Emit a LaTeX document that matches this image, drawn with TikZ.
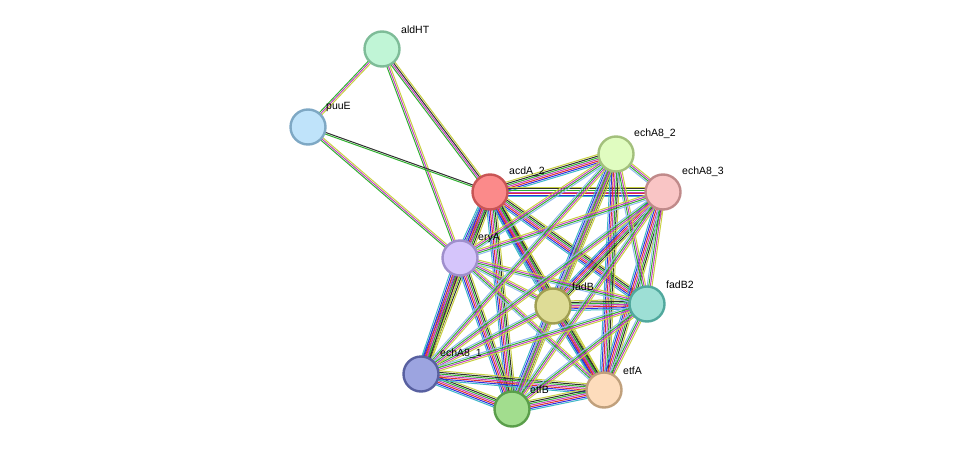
\documentclass[tikz,border=0pt]{standalone}
\usepackage{fontspec}
\setmainfont{Liberation Sans}
\usetikzlibrary{calc}
\definecolor{eYel}{HTML}{C8D040}
\definecolor{eGrn}{HTML}{30B030}
\definecolor{eMag}{HTML}{C040C0}
\definecolor{eBlu}{HTML}{3030E0}
\definecolor{eBlk}{HTML}{303030}
\definecolor{eCya}{HTML}{40B8C8}
\definecolor{eRed}{HTML}{E03030}
\definecolor{eLbl}{HTML}{90B8F0}
\newcommand{\link}[4]{%
  \foreach \c [count=\i] in {#3}{
    \pgfmathsetmacro{\off}{(\i-#4)*1.6}
    \draw[\c, line width=1pt] ($(#1)!\off pt!90:(#2)$) -- ($(#2)!\off pt!-90:(#1)$);
  }}
\begin{document}
\begin{tikzpicture}[x=1pt, y=-1pt,
    protein/.style={circle, draw, line width=2.4pt, minimum size=35pt, inner sep=0pt},
    tag/.style={anchor=south west, font=\fontsize{10.5}{12}\selectfont, inner sep=0pt}]
\useasboundingbox (0,0) rectangle (976,455);
% node positions
\coordinate (aldHT) at (382,49);
\coordinate (puuE) at (308,127);
\coordinate (acdA) at (490,192);
\coordinate (echB) at (616,154);
\coordinate (echC) at (663,192);
\coordinate (eryA) at (460,258);
\coordinate (fadB) at (553,306);
\coordinate (fadBb) at (647,304);
\coordinate (echA) at (421,374);
\coordinate (etfB) at (512,409);
\coordinate (etfA) at (604,390);
% edges
\link{aldHT}{puuE}{eGrn,eMag,eYel}{2}
\link{aldHT}{acdA}{eGrn,eMag,eBlk,eYel}{2.5}
\link{aldHT}{eryA}{eGrn,eMag,eYel}{2}
\link{puuE}{acdA}{eGrn,eBlk}{1.5}
\link{puuE}{eryA}{eGrn,eMag,eYel}{2}
\foreach \a/\b in {acdA/echB,acdA/echC,acdA/eryA,acdA/fadB,acdA/fadBb,acdA/echA,acdA/etfB,acdA/etfA,
    echB/fadB,echB/etfA,echC/fadB,echC/etfA,eryA/echA,eryA/etfB,fadB/etfA,fadB/etfB,echA/etfB,echA/etfA,etfB/etfA,fadB/fadBb}
  {\link{\a}{\b}{eCya,eBlu,eRed,eMag,eGrn,eBlk,eYel}{4}}
\foreach \a/\b in {echB/echC,echB/fadBb,echB/etfB,echC/fadBb,echC/etfB,eryA/echB,eryA/echC,eryA/fadB,eryA/fadBb,
    eryA/etfA,fadB/echA,fadBb/etfA,fadBb/etfB,fadBb/echA,echB/echA,echC/echA}
  {\link{\a}{\b}{eLbl,eGrn,eMag,eYel}{2.5}}
% proteins
\node[protein, fill={rgb,255:red,192;green,245;blue,214}, draw={rgb,255:red,126;green,188;blue,152}] (n1) at (aldHT) {};
\node[protein, fill={rgb,255:red,191;green,227;blue,250}, draw={rgb,255:red,126;green,168;blue,196}] (n2) at (puuE) {};
\node[protein, fill={rgb,255:red,251;green,138;blue,138}, draw={rgb,255:red,200;green,85;blue,85}] (n3) at (acdA) {};
\node[protein, fill={rgb,255:red,224;green,252;blue,192}, draw={rgb,255:red,163;green,192;blue,124}] (n4) at (echB) {};
\node[protein, fill={rgb,255:red,249;green,197;blue,197}, draw={rgb,255:red,192;green,138;blue,138}] (n5) at (echC) {};
\node[protein, fill={rgb,255:red,213;green,197;blue,251}, draw={rgb,255:red,159;green,143;blue,204}] (n6) at (eryA) {};
\node[protein, fill={rgb,255:red,222;green,220;blue,150}, draw={rgb,255:red,160;green,158;blue,80}] (n7) at (fadB) {};
\node[protein, fill={rgb,255:red,157;green,223;blue,213}, draw={rgb,255:red,80;green,168;blue,157}] (n8) at (fadBb) {};
\node[protein, fill={rgb,255:red,156;green,164;blue,224}, draw={rgb,255:red,88;green,96;blue,160}] (n9) at (echA) {};
\node[protein, fill={rgb,255:red,162;green,221;blue,142}, draw={rgb,255:red,90;green,158;blue,74}] (n10) at (etfB) {};
\node[protein, fill={rgb,255:red,253;green,220;blue,188}, draw={rgb,255:red,192;green,160;blue,124}] (n11) at (etfA) {};
% labels
\node[tag] (l1) at ($(aldHT)+(19,-15)$) {aldHT};
\node[tag] (l2) at ($(puuE)+(18,-15)$) {puuE};
\node[tag] (l3) at ($(acdA)+(19,-15)$) {acdA\_2};
\node[tag] (l4) at ($(echB)+(18,-15)$) {echA8\_2};
\node[tag] (l5) at ($(echC)+(19,-15)$) {echA8\_3};
\node[tag] (l6) at ($(eryA)+(18,-15)$) {eryA};
\node[tag] (l7) at ($(fadB)+(19,-15)$) {fadB};
\node[tag] (l8) at ($(fadBb)+(19,-15)$) {fadB2};
\node[tag] (l9) at ($(echA)+(19,-15)$) {echA8\_1};
\node[tag] (l10) at ($(etfB)+(18,-15)$) {etfB};
\node[tag] (l11) at ($(etfA)+(19,-15)$) {etfA};
\end{tikzpicture}
\end{document}
